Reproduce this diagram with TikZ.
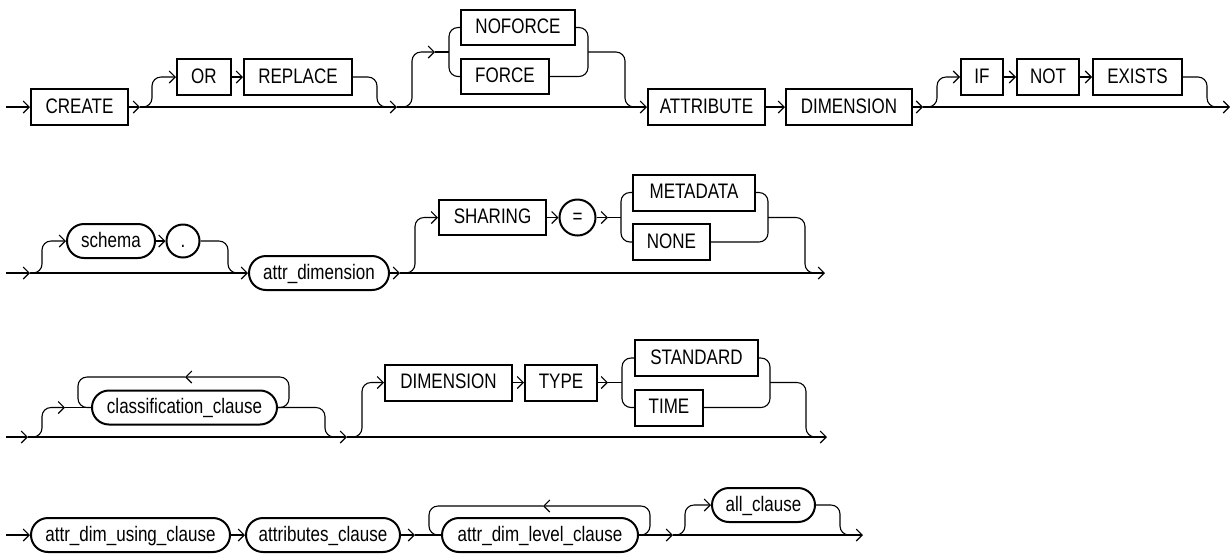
\documentclass[tikz,border=0pt]{standalone}
\usepackage{fontspec}
\setmainfont{Liberation Sans}[FakeStretch=0.81]
\usetikzlibrary{arrows.meta}
\begin{document}
\begin{tikzpicture}[x=0.5pt,y=-0.5pt,
  line width=0.55pt,
  >={Straight Barb[length=3pt,width=6pt]},
  kw/.style={draw,rectangle,line width=1pt,minimum height=18pt,inner sep=0pt,
    text height=7.5pt,text depth=1.5pt,font=\fontsize{10.5}{12}\selectfont},
  nt/.style={kw,rounded corners=8.5pt,minimum height=17pt},
  sym/.style={kw,circle},
  conn/.style={rounded corners=4.5pt}]
\useasboundingbox (0,0) rectangle (1231,554);

% ---------- row 1 ----------
\node[kw,minimum width=48.5pt] (create) at (79.5,107) {CREATE};
\node[kw,minimum width=27pt] (or) at (204,77) {OR};
\node[kw,minimum width=54pt] (replace) at (298,77) {REPLACE};
\node[kw,minimum width=57pt,minimum height=17.5pt] (noforce) at (518,27.5) {NOFORCE};
\node[kw,minimum width=44pt,minimum height=17.5pt] (force) at (505,76.5) {FORCE};
\node[kw,minimum width=58.5pt] (attribute) at (706.5,107) {ATTRIBUTE};
\node[kw,minimum width=63pt] (dimension) at (849,107) {DIMENSION};
\node[kw,minimum width=21pt] (if) at (982,77) {IF};
\node[kw,minimum width=31pt] (not) at (1048,77) {NOT};
\node[kw,minimum width=44.5pt] (exists) at (1137.5,77) {EXISTS};

\coordinate (s1) at (6,107);
\coordinate (j1) at (140,107);
\coordinate (j2) at (397,107);
\coordinate (f1) at (435,52);
\coordinate (j3) at (923,107);
\coordinate (e1) at (1230,107);

\draw[->] (s1) -- (create.west);
\draw[->] (create.east) -- (j1);
\draw[->] (j1) -- (j2);
\draw[conn,->] (j1) -- (152,107) -- (152,77) -- (or.west);
\draw[->] (or) -- (replace);
\draw[conn] (replace.east) -- (377,77) -- (377,107) -- (392,107);
\draw[->] (j2) -- (attribute.west);
\draw[conn,->] (j2) -- (412,107) -- (412,52) -- (f1);
\draw (f1) -- (449,52);
\draw[conn] (noforce.west) -- (449,27.5) -- (449,76.5) -- (force.west);
\draw[conn] (noforce.east) -- (588,27.5) -- (588,76.5) -- (force.east);
\draw[conn] (588,52) -- (625,52) -- (625,107) -- (640,107);
\draw[->] (attribute) -- (dimension);
\draw[->] (dimension.east) -- (j3);
\draw[->] (j3) -- (e1);
\draw[conn,->] (j3) -- (937,107) -- (937,77) -- (if.west);
\draw[->] (if) -- (not);
\draw[->] (not) -- (exists);
\draw[conn] (exists.east) -- (1207,77) -- (1207,107) -- (1222,107);

% ---------- row 2 ----------
\node[nt,minimum width=44pt] (schema) at (111,241) {schema};
\node[sym,minimum size=16.5pt] (dot) at (183,241) {.};
\node[nt,minimum width=70pt] (attrdim) at (319,273) {attr\_dimension};
\node[kw,minimum width=53.5pt,minimum height=17.5pt] (sharing) at (492.5,217.5) {SHARING};
\node[sym,minimum size=18pt] (eq) at (577.5,217.5) {=};
\node[kw,minimum width=61pt] (metadata) at (694,192.5) {METADATA};
\node[kw,minimum width=38.5pt] (none) at (671.5,242) {NONE};

\coordinate (s2) at (6,273);
\coordinate (j4) at (30,273);
\coordinate (j5) at (400,273);
\coordinate (f2) at (608,217.5);
\coordinate (e2) at (825,273);

\draw[->] (s2) -- (j4);
\draw[->] (j4) -- (attrdim.west);
\draw[conn,->] (j4) -- (42,273) -- (42,241) -- (schema.west);
\draw[->] (schema) -- (dot);
\draw[conn] (dot.east) -- (228,241) -- (228,273) -- (242,273);
\draw[->] (attrdim.east) -- (j5);
\draw[->] (j5) -- (e2);
\draw[conn,->] (j5) -- (415,273) -- (415,217.5) -- (sharing.west);
\draw[->] (sharing) -- (eq);
\draw[->] (eq.east) -- (f2);
\draw (f2) -- (621,217.5);
\draw[conn] (metadata.west) -- (621,192.5) -- (621,242) -- (none.west);
\draw[conn] (metadata.east) -- (768,192.5) -- (768,242) -- (none.east);
\draw[conn] (768,217.5) -- (805,217.5) -- (805,273) -- (818,273);

% ---------- row 3 ----------
\node[nt,minimum width=92.5pt] (classif) at (184.5,407.5) {classification\_clause};
\node[kw,minimum width=63.5pt] (dim2) at (448.5,382.5) {DIMENSION};
\node[kw,minimum width=36pt] (type) at (561,382.5) {TYPE};
\node[kw,minimum width=61.5pt] (standard) at (696.5,358) {STANDARD};
\node[kw,minimum width=34pt] (time) at (669,407.5) {TIME};

\coordinate (s3) at (6,437);
\coordinate (j6) at (28,437);
\coordinate (f3) at (65,407.5);
\coordinate (t3) at (185,377);
\coordinate (j7) at (347,437);
\coordinate (f4) at (608,382.5);
\coordinate (e3) at (827,437);

\draw[->] (s3) -- (j6);
\draw[->] (j6) -- (j7);
\draw[conn,->] (j6) -- (42,437) -- (42,407.5) -- (f3);
\draw (f3) -- (classif.west);
\draw[conn,->] (classif.east) -- (289,407.5) -- (289,377) -- (t3);
\draw[conn] (t3) -- (78,377) -- (78,407.5) -- (classif.west);
\draw[conn] (classif.east) -- (325,407.5) -- (325,437) -- (340,437);
\draw[->] (j7) -- (e3);
\draw[conn,->] (j7) -- (362,437) -- (362,382.5) -- (dim2.west);
\draw[->] (dim2) -- (type);
\draw[->] (type.east) -- (f4);
\draw (f4) -- (622,382.5);
\draw[conn] (standard.west) -- (622,358) -- (622,407.5) -- (time.west);
\draw[conn] (standard.east) -- (770,358) -- (770,407.5) -- (time.east);
\draw[conn] (770,382.5) -- (806,382.5) -- (806,437) -- (820,437);

% ---------- row 4 ----------
\node[nt,minimum width=99.5pt] (using) at (130.5,535) {attr\_dim\_using\_clause};
\node[nt,minimum width=77pt] (attributes) at (323,535) {attributes\_clause};
\node[nt,minimum width=98pt] (level) at (540,535) {attr\_dim\_level\_clause};
\node[nt,minimum width=51.5pt] (all) at (763.5,505) {all\_clause};

\coordinate (s4) at (6,535);
\coordinate (f5) at (415,535);
\coordinate (t4) at (543,506);
\coordinate (j8) at (673,535);
\coordinate (e4) at (863,535);

\draw[->] (s4) -- (using.west);
\draw[->] (using) -- (attributes);
\draw[->] (attributes.east) -- (f5);
\draw (f5) -- (level.west);
\draw[conn,->] (level.east) -- (650,535) -- (650,506) -- (t4);
\draw[conn] (t4) -- (429,506) -- (429,535) -- (level.west);
\draw[->] (level.east) -- (j8);
\draw[->] (j8) -- (e4);
\draw[conn,->] (j8) -- (685,535) -- (685,505) -- (all.west);
\draw[conn] (all.east) -- (840,505) -- (840,535) -- (855,535);
\end{tikzpicture}
\end{document}
